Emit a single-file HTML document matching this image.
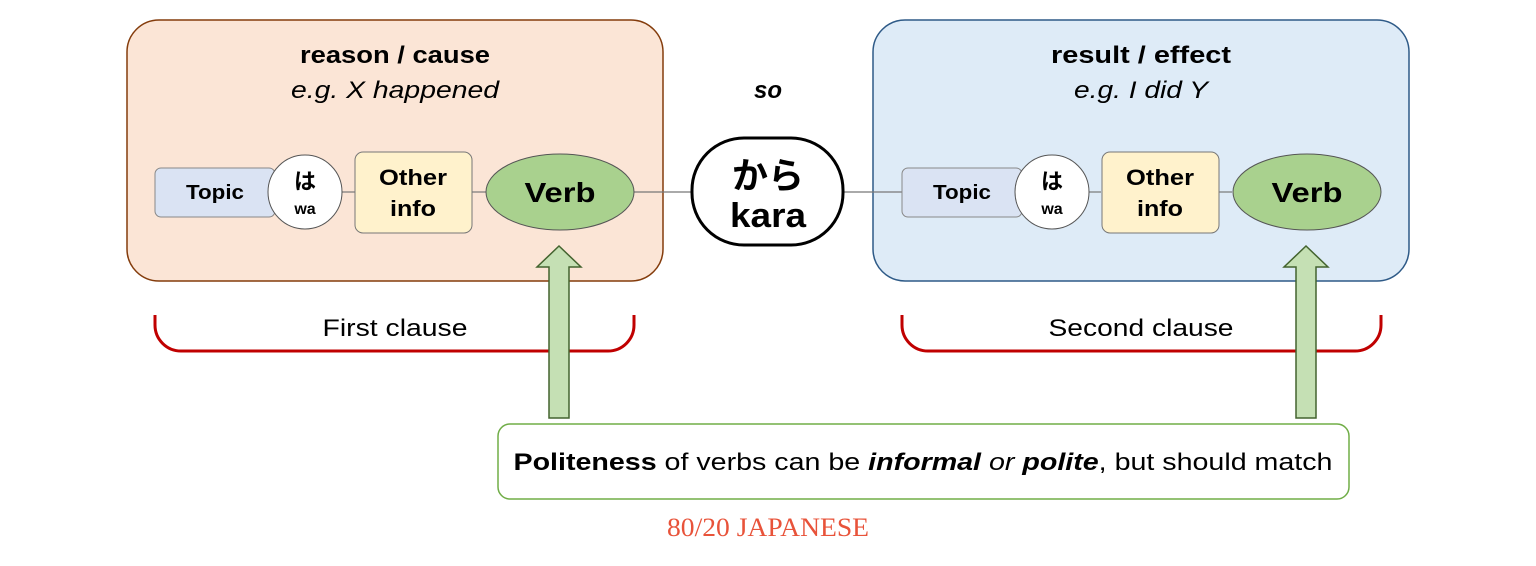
<!DOCTYPE html>
<html><head><meta charset="utf-8"><style>
html,body{margin:0;padding:0;background:#fff;width:1536px;height:566px;overflow:hidden}
text{font-family:"Liberation Sans","Noto Sans CJK JP",sans-serif}
</style></head><body>
<svg width="1536" height="566" viewBox="0 0 1536 566" xmlns="http://www.w3.org/2000/svg">
<rect x="127" y="20" width="536" height="261" rx="32" fill="#fbe5d6" stroke="#843c0c" stroke-width="1.5"/>
<rect x="873" y="20" width="536" height="261" rx="32" fill="#deebf7" stroke="#2e5a87" stroke-width="1.5"/>
<text x="395" y="63" font-size="24" font-weight="bold" text-anchor="middle" textLength="190" lengthAdjust="spacingAndGlyphs">reason / cause</text>
<text x="395" y="98" font-size="24" font-style="italic" text-anchor="middle" textLength="208" lengthAdjust="spacingAndGlyphs">e.g. X happened</text>
<text x="1141" y="63" font-size="24" font-weight="bold" text-anchor="middle" textLength="180" lengthAdjust="spacingAndGlyphs">result / effect</text>
<text x="1141" y="98" font-size="24" font-style="italic" text-anchor="middle" textLength="134" lengthAdjust="spacingAndGlyphs">e.g. I did Y</text>
<text x="768" y="98" font-size="24" font-weight="bold" font-style="italic" text-anchor="middle">so</text>
<g stroke="#777" stroke-width="1.2">
<line x1="342" y1="192" x2="355" y2="192"/><line x1="472" y1="192" x2="486" y2="192"/><line x1="634" y1="192" x2="692" y2="192"/>
<line x1="843" y1="192" x2="902" y2="192"/><line x1="1088" y1="192" x2="1101" y2="192"/><line x1="1218" y1="192" x2="1232" y2="192"/>
</g>
<g id="L">
<rect x="155" y="168" width="120" height="49" rx="6" fill="#dae3f3" stroke="#888"/>
<text x="215" y="199" font-size="20" font-weight="bold" text-anchor="middle" textLength="58" lengthAdjust="spacingAndGlyphs">Topic</text>
<circle cx="305" cy="192" r="37" fill="#fff" stroke="#555"/>
<text x="305" y="189" font-size="22" font-weight="bold" text-anchor="middle">は</text>
<text x="305" y="214" font-size="16" font-weight="bold" text-anchor="middle">wa</text>
<rect x="355" y="152" width="117" height="81" rx="8" fill="#fff2cc" stroke="#777"/>
<text x="413" y="185" font-size="22" font-weight="bold" text-anchor="middle" textLength="68" lengthAdjust="spacingAndGlyphs">Other</text>
<text x="413" y="216" font-size="22" font-weight="bold" text-anchor="middle" textLength="46" lengthAdjust="spacingAndGlyphs">info</text>
<ellipse cx="560" cy="192" rx="74" ry="38" fill="#a9d18e" stroke="#555"/>
<text x="560" y="202" font-size="28" font-weight="bold" text-anchor="middle" textLength="71" lengthAdjust="spacingAndGlyphs">Verb</text>
</g>
<use href="#L" transform="translate(747,0)"/>
<rect x="692" y="138" width="151" height="107" rx="52" fill="#fff" stroke="#000" stroke-width="3"/>
<text x="768" y="188" font-size="36" font-weight="bold" text-anchor="middle">から</text>
<text x="768" y="227" font-size="34" font-weight="bold" text-anchor="middle" textLength="76" lengthAdjust="spacingAndGlyphs">kara</text>
<g fill="none" stroke="#c00000" stroke-width="3">
<path d="M155 315 v10 a26 26 0 0 0 26 26 H608 a26 26 0 0 0 26 -26 v-10"/>
<path d="M902 315 v10 a26 26 0 0 0 26 26 H1355 a26 26 0 0 0 26 -26 v-10"/>
</g>
<text x="395" y="336" font-size="24" text-anchor="middle" textLength="145" lengthAdjust="spacingAndGlyphs">First clause</text>
<text x="1141" y="336" font-size="24" text-anchor="middle" textLength="185" lengthAdjust="spacingAndGlyphs">Second clause</text>
<g fill="#c5e0b4" stroke="#43632e" stroke-width="1.5">
<path d="M559 246 L581 267 L569 267 L569 418 L549 418 L549 267 L537 267 Z"/>
<path d="M1306 246 L1328 267 L1316 267 L1316 418 L1296 418 L1296 267 L1284 267 Z"/>
</g>
<rect x="498" y="424" width="851" height="75" rx="12" fill="#fff" stroke="#70ad47" stroke-width="1.5"/>
<text x="923" y="470" font-size="24" text-anchor="middle" textLength="819" lengthAdjust="spacingAndGlyphs"><tspan font-weight="bold">Politeness</tspan> of verbs can be <tspan font-weight="bold" font-style="italic">informal</tspan> <tspan font-style="italic">or</tspan> <tspan font-weight="bold" font-style="italic">polite</tspan>, but should match</text>
<text x="768" y="536" font-size="26" fill="#e8533a" text-anchor="middle" textLength="202" lengthAdjust="spacingAndGlyphs" style="font-family:'Liberation Serif',serif">80/20 JAPANESE</text>
</svg>
</body></html>
